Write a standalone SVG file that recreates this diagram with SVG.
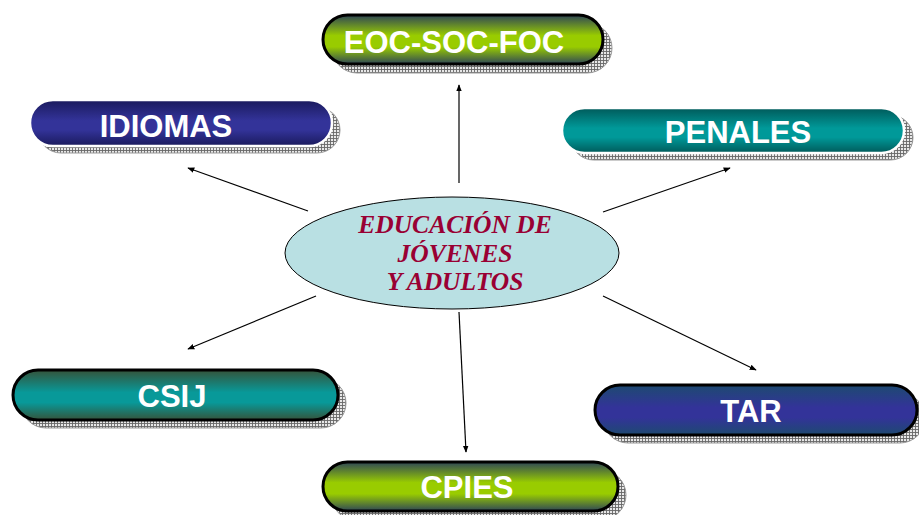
<svg xmlns="http://www.w3.org/2000/svg" width="919" height="515" viewBox="0 0 919 515">
<style>
.lbl{font-family:"Liberation Sans",Arial,sans-serif;font-weight:bold;font-size:31px;fill:#ffffff;text-anchor:middle}
.ctr{font-family:"Liberation Serif","Times New Roman",serif;font-weight:bold;font-style:italic;font-size:25.5px;fill:#990033;text-anchor:middle}
.edge{stroke:#000;stroke-width:1.2;fill:none;marker-end:url(#ah)}
.blk{stroke:#000;stroke-width:3}
.wht{stroke:#ffffff;stroke-width:2.5}
.shd{fill:url(#hatch);stroke:#999;stroke-width:1}
</style>
<defs>
<pattern id="hatch" width="3" height="3" patternUnits="userSpaceOnUse">
<rect width="3" height="3" fill="#e8e8e8"/>
<path d="M0 0.5H3M0.5 0V3" stroke="#666" stroke-width="0.9"/>
</pattern>
<linearGradient id="gGreen" x1="0" y1="0" x2="0" y2="1">
<stop offset="0" stop-color="#2e4656"/>
<stop offset="0.42" stop-color="#99cc00"/>
<stop offset="0.65" stop-color="#99cc00"/>
<stop offset="1" stop-color="#2e4656"/>
</linearGradient>
<linearGradient id="gNavy1" x1="0" y1="0" x2="0" y2="1">
<stop offset="0" stop-color="#1a1a5c"/>
<stop offset="0.45" stop-color="#333399"/>
<stop offset="0.65" stop-color="#333399"/>
<stop offset="1" stop-color="#1a1a5c"/>
</linearGradient>
<linearGradient id="gNavy2" x1="0" y1="0" x2="0" y2="1">
<stop offset="0" stop-color="#1d4a70"/>
<stop offset="0.45" stop-color="#333399"/>
<stop offset="0.65" stop-color="#333399"/>
<stop offset="1" stop-color="#1d4a70"/>
</linearGradient>
<linearGradient id="gTeal1" x1="0" y1="0" x2="0" y2="1">
<stop offset="0" stop-color="#005a5a"/>
<stop offset="0.45" stop-color="#009999"/>
<stop offset="0.65" stop-color="#009999"/>
<stop offset="1" stop-color="#005a5a"/>
</linearGradient>
<linearGradient id="gTeal2" x1="0" y1="0" x2="0" y2="1">
<stop offset="0" stop-color="#35533a"/>
<stop offset="0.45" stop-color="#089999"/>
<stop offset="0.65" stop-color="#089999"/>
<stop offset="1" stop-color="#35533a"/>
</linearGradient>
<marker id="ah" viewBox="0 0 10 10" refX="9" refY="5" markerWidth="7" markerHeight="7" orient="auto" markerUnits="userSpaceOnUse">
<path d="M0 1L10 5L0 9Z" fill="#000"/>
</marker>
</defs>

<g id="connectors">
<line class="edge" x1="459" y1="183" x2="459" y2="85"/>
<line class="edge" x1="308" y1="211" x2="188" y2="168"/>
<line class="edge" x1="603" y1="212" x2="730" y2="168"/>
<line class="edge" x1="316" y1="296" x2="188" y2="349"/>
<line class="edge" x1="603" y1="296" x2="756" y2="370"/>
<line class="edge" x1="459" y1="312" x2="466" y2="452"/>
</g>

<g id="center">
<ellipse cx="452" cy="253" rx="167" ry="56" fill="#b9e0e3" stroke="#000" stroke-width="1"/>
<text class="ctr" x="455" y="233">EDUCACIÓN DE</text>
<text class="ctr" x="455" y="262">JÓVENES</text>
<text class="ctr" x="455" y="290">Y ADULTOS</text>
</g>

<g id="eoc">
<rect class="shd" x="332" y="23" width="280" height="50" rx="25"/>
<rect class="blk" x="323" y="15" width="280" height="49" rx="24.5" fill="url(#gGreen)"/>
<text class="lbl" x="454" y="53">EOC-SOC-FOC</text>
</g>

<g id="idiomas">
<rect class="shd" x="38" y="107" width="302" height="46" rx="23"/>
<rect class="wht" x="30" y="100" width="302" height="46" rx="23" fill="url(#gNavy1)"/>
<text class="lbl" x="166" y="137">IDIOMAS</text>
</g>

<g id="penales">
<rect class="shd" x="571" y="115" width="342" height="45" rx="22.5"/>
<rect class="wht" x="562" y="108" width="342" height="45" rx="22.5" fill="url(#gTeal1)"/>
<text class="lbl" x="738" y="143">PENALES</text>
</g>

<g id="csij">
<rect class="shd" x="21" y="378" width="325" height="50" rx="25"/>
<rect class="blk" x="13" y="370" width="325" height="50" rx="25" fill="url(#gTeal2)"/>
<text class="lbl" x="172" y="407">CSIJ</text>
</g>

<g id="tar">
<rect class="shd" x="603" y="393" width="322" height="50" rx="25"/>
<rect class="blk" x="595" y="385" width="322" height="50" rx="25" fill="url(#gNavy2)"/>
<text class="lbl" x="751" y="422">TAR</text>
</g>

<g id="cpies">
<rect class="shd" x="331" y="470" width="295" height="50" rx="25"/>
<rect class="blk" x="323" y="462" width="295" height="49" rx="24.5" fill="url(#gGreen)"/>
<text class="lbl" x="467" y="498">CPIES</text>
</g>
</svg>
